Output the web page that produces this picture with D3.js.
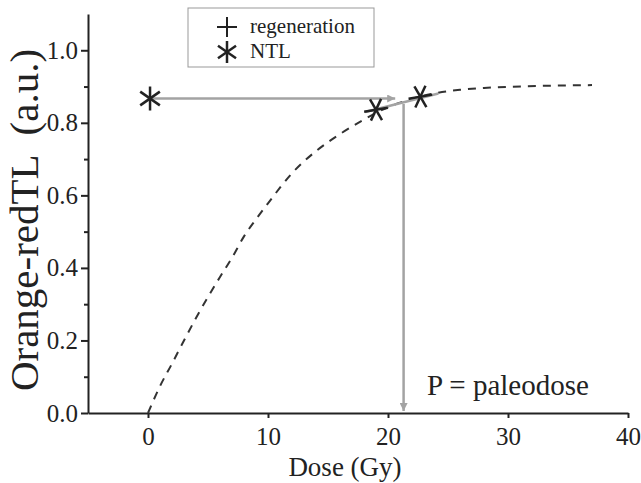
<!DOCTYPE html>
<html lang="en">
<head>
<meta charset="UTF-8">
<title>Dose response</title>
<style>
  body { margin:0; background:#fff; }
  svg { display:block; }
  svg text { font-family:"Liberation Serif","Times New Roman",serif; fill:#222; }
  .axis path, .axis line { stroke:#222; stroke-width:2px; }
</style>
</head>
<body>
<svg id="CHART" width="641" height="483"></svg>
<script src="https://cdnjs.cloudflare.com/ajax/libs/d3/7.8.5/d3.min.js"></script>
<script>
// fitted growth curve
var curveDose = [0, 1, 2, 3, 4, 5, 6, 7, 8, 9, 10, 12, 14, 16, 18, 20, 22, 24, 26, 28, 30, 33, 37];
var curveTL   = [0, 0.074, 0.136, 0.200, 0.262, 0.320, 0.375, 0.428, 0.487, 0.534, 0.578, 0.661, 0.722, 0.769, 0.809, 0.843, 0.866, 0.882, 0.891, 0.896, 0.899, 0.902, 0.904];

// measured points
var regenDose = [19.0, 22.7];
var regenTL   = [0.836, 0.872];
var ntlDose = [0.17];
var ntlTL   = [0.867];

// grey construction lines
var regenLineDose = [18.1, 24.2];
var regenLineTL   = [0.830, 0.881];
var paleodose = 21.3;
var hArrowEnd = 20.6;
var vArrowTop = 0.852;

var xTicks = [0, 10, 20, 30, 40];
var yTicks = [0, 0.2, 0.4, 0.6, 0.8, 1.0];
var yMinor = [0.1, 0.3, 0.5, 0.7, 0.9];

var serif = "'Liberation Serif','Times New Roman',serif";
var svg = d3.select("#CHART");
var x = d3.scaleLinear().domain([-5, 40]).range([88, 628]);
var y = d3.scaleLinear().domain([0, 1.1]).range([413, 14]);
var grey = "#a3a3a3";

var defs = svg.append("defs");
defs.append("marker").attr("id", "arr")
  .attr("viewBox", "0 0 10 10").attr("refX", 10).attr("refY", 5)
  .attr("markerWidth", 10).attr("markerHeight", 8)
  .attr("markerUnits", "userSpaceOnUse").attr("orient", "auto")
  .append("path").attr("d", "M0,0 L10,5 L0,10 Z").attr("fill", grey);

// axes
var yMinorAxis = svg.append("g").attr("class", "axis")
  .attr("transform", "translate(" + x(-5) + ",0)")
  .call(d3.axisLeft(y).tickValues(yMinor).tickSize(4).tickFormat(""));
yMinorAxis.select(".domain").remove();

var yAxis = svg.append("g").attr("class", "axis")
  .attr("transform", "translate(" + x(-5) + ",0)")
  .call(d3.axisLeft(y).tickValues(yTicks).tickSize(7).tickSizeOuter(0).tickPadding(3).tickFormat(d3.format(".1f")));

var xAxis = svg.append("g").attr("class", "axis")
  .attr("transform", "translate(0," + y(0) + ")")
  .call(d3.axisBottom(x).tickValues(xTicks).tickSize(5).tickSizeOuter(0).tickPadding(9));

[xAxis, yAxis].forEach(function(a){
  a.attr("font-family", serif).attr("font-size", 25);
  a.selectAll("text").style("font-family", serif).style("font-size", "25px").attr("fill", "#222");
});

// axis titles
svg.append("text").attr("x", 345).attr("y", 476).attr("text-anchor", "middle")
  .style("font-family", serif).attr("font-size", 27).text("Dose (Gy)");
svg.append("text").attr("transform", "translate(38,220) rotate(-90)")
  .attr("text-anchor", "middle").style("font-family", serif).attr("font-size", 41)
  .style("white-space", "pre").text("Orange-redTL  (a.u.)");

// dashed fitted curve
var pts = curveDose.map(function(d, i){ return [d, curveTL[i]]; });
svg.append("path").datum(pts)
  .attr("fill", "none").attr("stroke", "#333").attr("stroke-width", 2)
  .attr("stroke-dasharray", "8,7")
  .attr("d", d3.line().curve(d3.curveMonotoneX).x(function(d){ return x(d[0]); }).y(function(d){ return y(d[1]); }));

// grey construction lines
svg.append("line")
  .attr("x1", x(regenLineDose[0])).attr("y1", y(regenLineTL[0]))
  .attr("x2", x(regenLineDose[1])).attr("y2", y(regenLineTL[1]))
  .attr("stroke", grey).attr("stroke-width", 2.5);
svg.append("line")
  .attr("x1", x(ntlDose[0])).attr("y1", y(ntlTL[0]))
  .attr("x2", x(hArrowEnd)).attr("y2", y(ntlTL[0]))
  .attr("stroke", grey).attr("stroke-width", 2.5).attr("marker-end", "url(#arr)");
svg.append("line")
  .attr("x1", x(paleodose)).attr("y1", y(vArrowTop))
  .attr("x2", x(paleodose)).attr("y2", y(0) - 2)
  .attr("stroke", grey).attr("stroke-width", 2.5).attr("marker-end", "url(#arr)");

// marker shapes
function star(g, r, rot){
  [90, 35, -35].forEach(function(a){
    var t = (a + rot) * Math.PI / 180;
    g.append("line")
      .attr("x1", -r * Math.cos(t)).attr("y1", -r * Math.sin(t))
      .attr("x2", r * Math.cos(t)).attr("y2", r * Math.sin(t))
      .attr("stroke", "#222").attr("stroke-width", 2.5);
  });
}
function plus(g, r){
  g.append("line").attr("x1", -r).attr("x2", r).attr("y1", 0).attr("y2", 0).attr("stroke", "#222").attr("stroke-width", 2);
  g.append("line").attr("y1", -r).attr("y2", r).attr("x1", 0).attr("x2", 0).attr("stroke", "#222").attr("stroke-width", 2);
}

ntlDose.forEach(function(d, i){
  var g = svg.append("g").attr("transform", "translate(" + x(d) + "," + y(ntlTL[i]) + ")");
  star(g, 12, 0);
});
regenDose.forEach(function(d, i){
  var g = svg.append("g").attr("transform", "translate(" + x(d) + "," + y(regenTL[i]) + ")");
  star(g, 12, 25);
});

// legend
var leg = svg.append("g");
leg.append("rect").attr("x", 188).attr("y", 8).attr("width", 186).attr("height", 59)
  .attr("fill", "#fff").attr("stroke", "#999").attr("stroke-width", 1);
plus(leg.append("g").attr("transform", "translate(227,27)"), 10);
star(leg.append("g").attr("transform", "translate(227,52)"), 11, 0);
leg.append("text").attr("x", 250).attr("y", 33).style("font-family", serif).attr("font-size", 21).text("regeneration");
leg.append("text").attr("x", 250).attr("y", 58).style("font-family", serif).attr("font-size", 21).text("NTL");

svg.append("text").attr("x", 427).attr("y", 395).style("font-family", serif).attr("font-size", 29).text("P = paleodose");
</script>
</body>
</html>
